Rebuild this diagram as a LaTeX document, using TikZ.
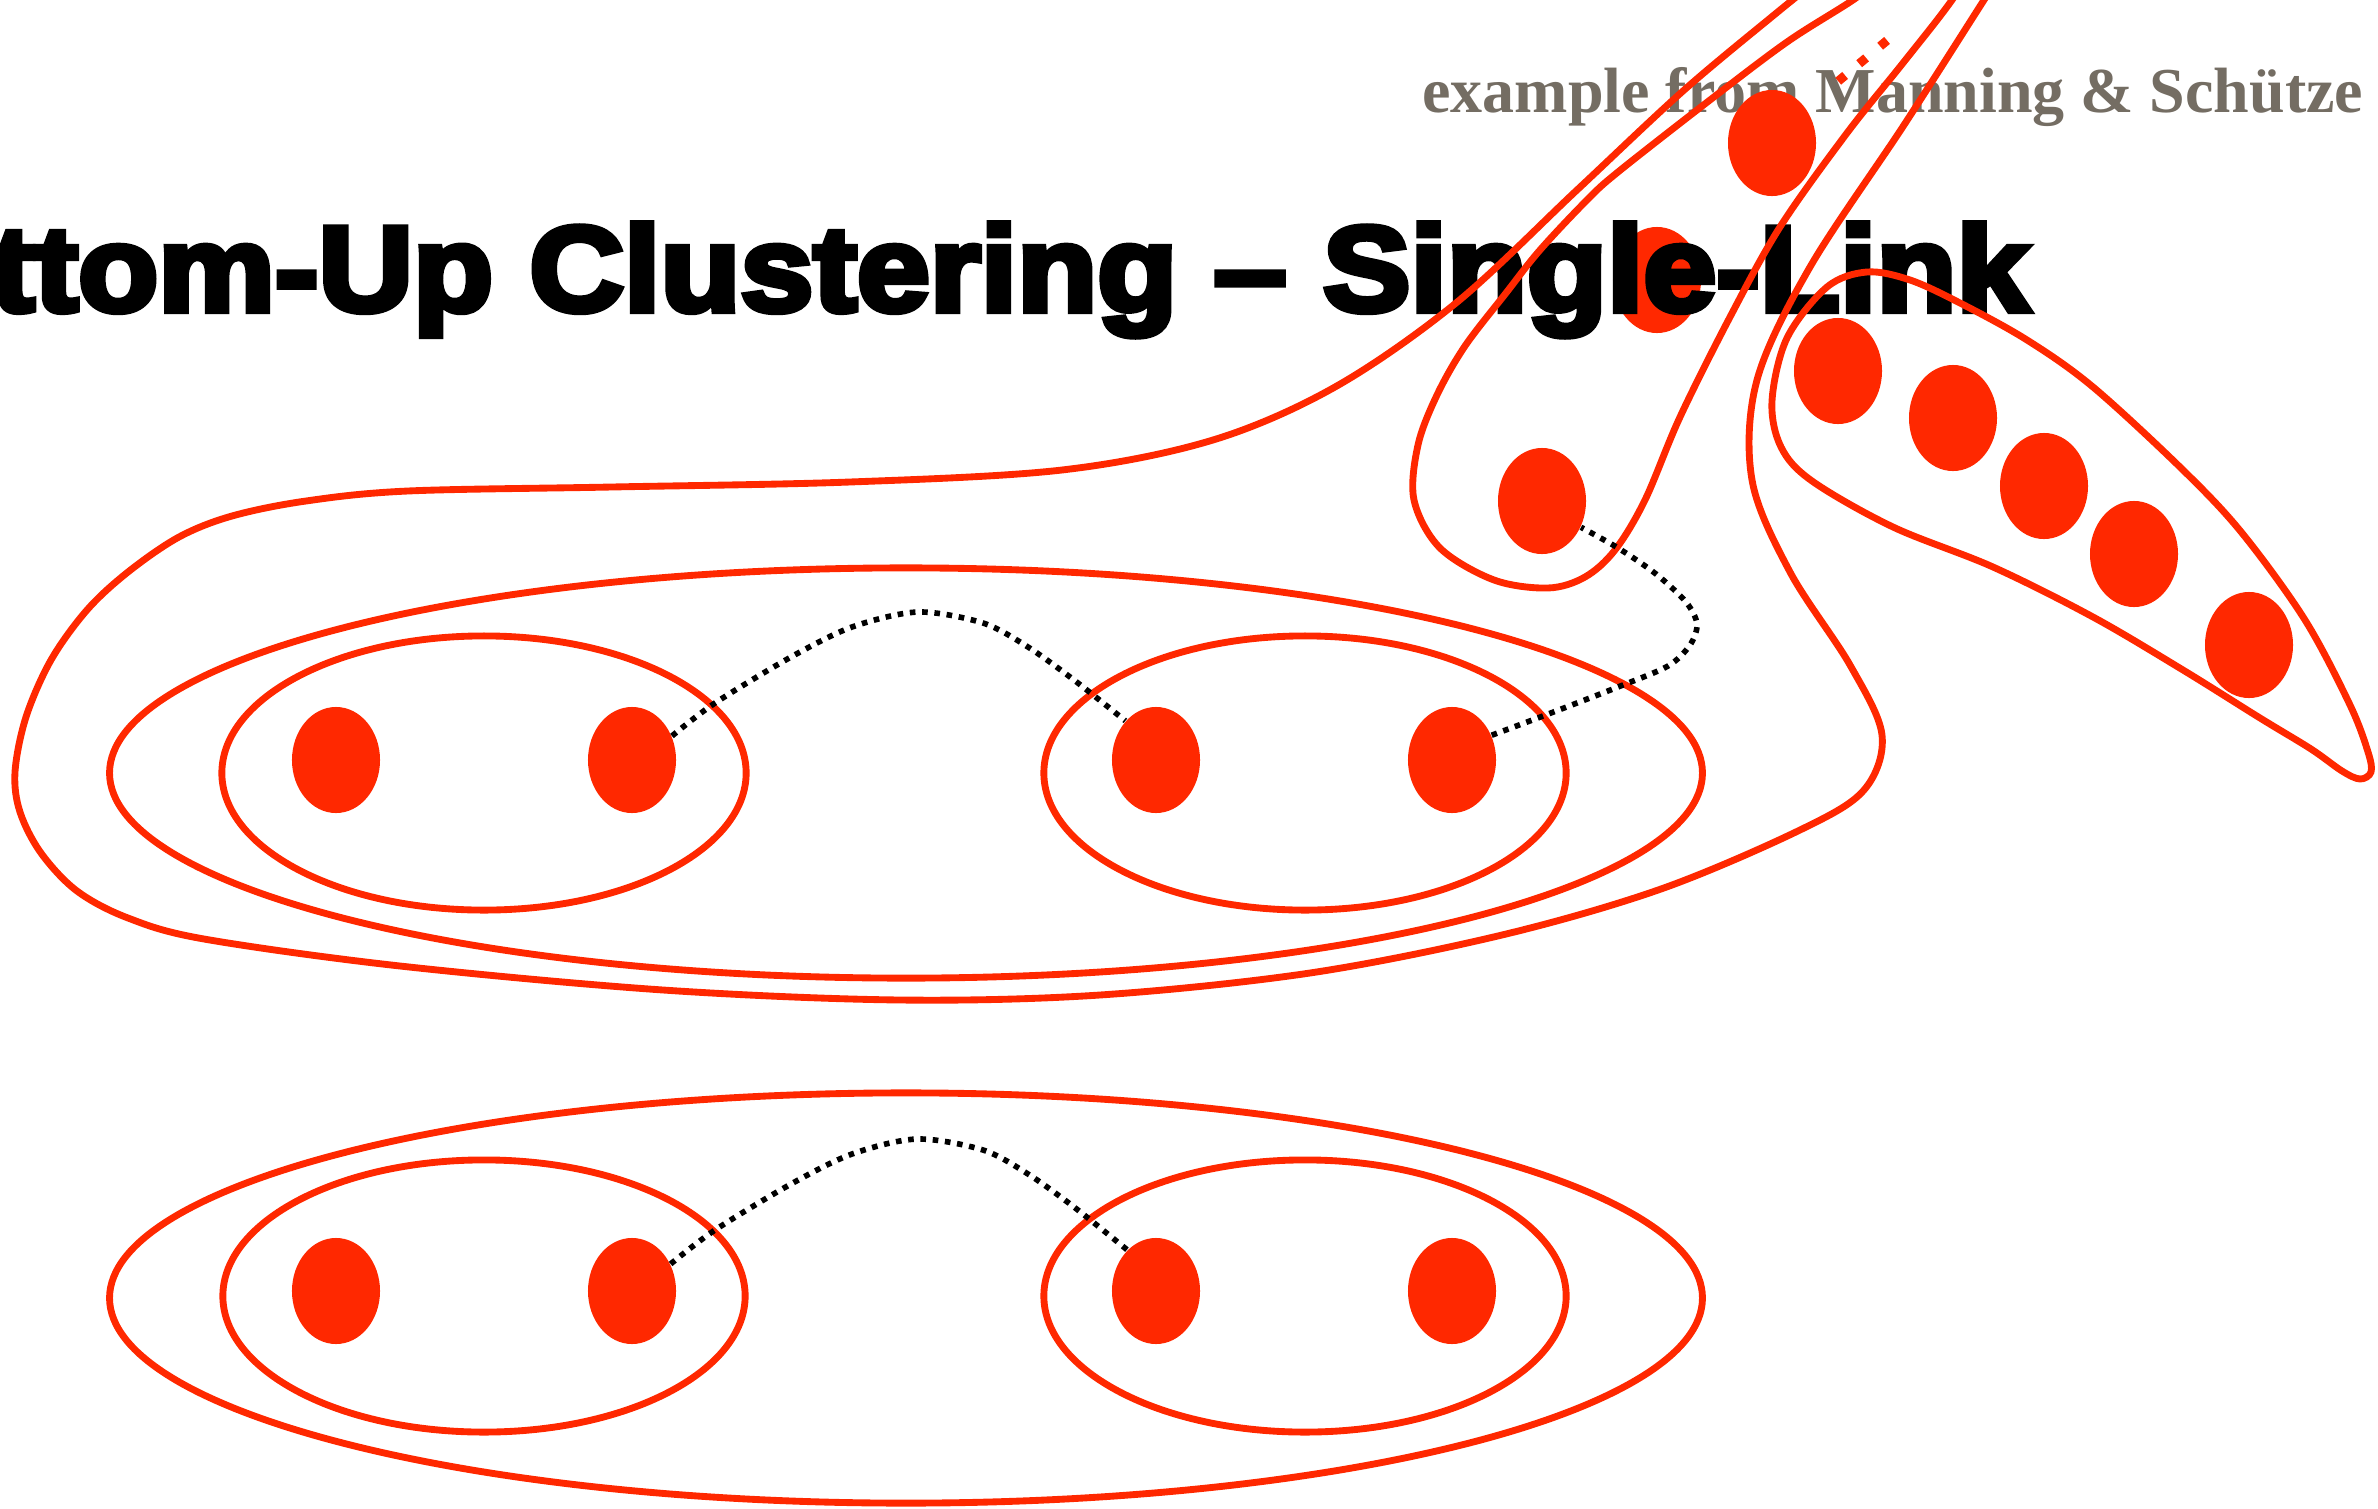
\documentclass[tikz,border=0pt]{standalone}
\usepackage{fontspec}
\usepackage{graphicx}
\usetikzlibrary{shapes.geometric}
\newfontfamily\titlefont{Liberation Sans}[FakeBold=5]
\newfontfamily\subfont{Liberation Serif}
\definecolor{cred}{RGB}{255,40,0}
\definecolor{cgray}{RGB}{116,109,99}
\begin{document}
\begin{tikzpicture}[x=0.01cm,y=-0.01cm,
  clu/.style={draw=cred, line width=1.95pt},
  dot/.style={ellipse, fill=cred, draw=none, minimum width=0.88cm, minimum height=1.06cm, inner sep=0pt},
  link/.style={draw=black, line width=1.6pt, dash pattern=on 1.6pt off 1.9pt},
  more/.style={draw=cred, line width=0.09cm, dash pattern=on 0.09cm off 0.183cm}
]
\useasboundingbox (0,0) rectangle (2378,1509);
\clip (0,0) rectangle (2378,1509);
\fill[white] (0,0) rectangle (2378,1509);

% subtitle
\node[anchor=base east, text=cgray, inner sep=0pt] (sub) at (2364,112)
  {\subfont\bfseries\fontsize{18.2}{20}\selectfont example from Manning \& Schütze};

% dots, upper group
\node[dot] (a1) at (336,760) {};
\node[dot] (a2) at (632,760) {};
\node[dot] (a3) at (1156,760) {};
\node[dot] (a4) at (1452,760) {};
% dots, chain going up
\node[dot] (c1) at (1542,501) {};
\node[dot] (c2) at (1657,280) {};
\node[dot] (c3) at (1772,143) {};
% dots, boomerang
\node[dot] (b1) at (1838,371) {};
\node[dot] (b2) at (1953,418) {};
\node[dot] (b3) at (2044,486) {};
\node[dot] (b4) at (2134,554) {};
\node[dot] (b5) at (2249,645) {};
% dots, lower group
\node[dot] (e1) at (336,1291) {};
\node[dot] (e2) at (632,1291) {};
\node[dot] (e3) at (1156,1291) {};
\node[dot] (e4) at (1452,1291) {};

% title
\node[anchor=base east, inner sep=0pt] (title) at (2030,311)
  {\titlefont\bfseries\fontsize{34.5}{40}\selectfont\scalebox{1.08}[1]{Bottom-Up Clustering – Single-Link}};

% upper clusters
\draw[clu] (484,773) ellipse [x radius=2.62cm, y radius=1.37cm];
\draw[clu] (1305,773) ellipse [x radius=2.61cm, y radius=1.37cm];
\draw[clu] (906,773) ellipse [x radius=7.96cm, y radius=2.05cm];

% big outer blob (open at the top)
\draw[clu] plot[smooth, tension=0.55] coordinates {
  (2010,-40) (1984,0) (1904,125) (1810,267) (1757,380) (1752,480) (1790,572)
  (1850,665) (1882,735) (1864,790) (1800,830) (1661,889) (1502,935) (1310,973)
  (1100,995) (900,1000) (663,990) (400,966) (204,939) (128,918) (77,891)
  (41,853) (20,812) (15,772) (26,717) (51,660) (87,610) (128,572) (179,537)
  (232,516) (306,501) (408,491) (612,487) (850,482)
  (1062,470) (1213,440) (1335,387) (1456,303) (1577,190) (1683,91) (1774,15) (1830,-30)};

% loop around the chain (open at the top)
\draw[clu] plot[smooth, tension=0.55] coordinates {
  (1990,-60) (1952,0) (1903,63) (1847,133) (1780,227) (1730,317) (1680,417)
  (1645,500) (1615,550) (1585,577) (1548,588) (1494,580) (1440,548) (1414,500)
  (1418,445) (1437,395) (1465,346) (1506,293) (1540,250) (1587,200) (1618,172)
  (1710,100) (1787,42) (1853,0) (1890,-28)};

% boomerang
\draw[clu] plot[smooth cycle, tension=0.55] coordinates {
  (1772,401) (1787,338) (1827,287) (1867,272) (1910,280) (1960,303) (2027,340)
  (2093,387) (2183,470) (2242,533) (2305,620) (2350,705) (2368,752) (2371,772)
  (2360,779) (2342,771) (2311,749) (2260,718) (2183,670) (2093,617) (1993,567)
  (1893,527) (1812,481) (1781,447)};

% continuation marks
\draw[more] (1838.2,81.2) -- (1887.8,39.8);

% single links, upper
\draw[link] plot[smooth] coordinates {(a2.31) (715,703) (791,657) (852,627) (918,612)
  (983,623) (1028,647) (1074,680) (a3.128)};
\draw[link] plot[smooth] coordinates {(a4.32) (1543,716) (1618,687) (1668,666) (1690,645)
  (1697,624) (1686,602) (1656,574) (1618,548) (c1.326)};

% lower clusters
\draw[clu] (484,1296) ellipse [x radius=2.61cm, y radius=1.36cm];
\draw[clu] (1305,1296) ellipse [x radius=2.61cm, y radius=1.36cm];
\draw[clu] (906,1298) ellipse [x radius=7.96cm, y radius=2.05cm];

% single link, lower
\draw[link] plot[smooth] coordinates {(e2.35) (715,1230) (791,1184) (852,1154) (917,1139)
  (983,1150) (1028,1174) (1074,1207) (e3.125)};
\end{tikzpicture}
\end{document}
